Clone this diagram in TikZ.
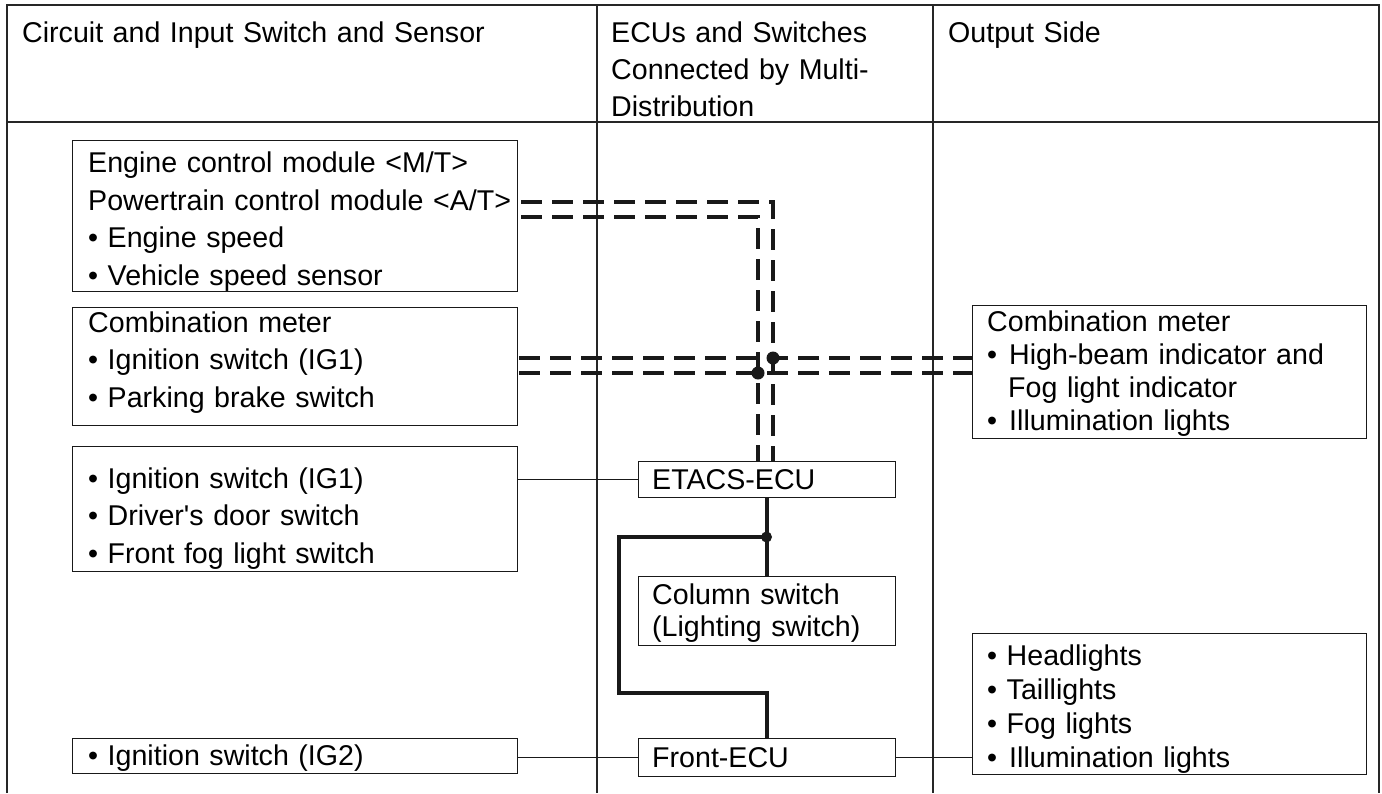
\documentclass[tikz,border=0pt]{standalone}
\usepackage{fontspec}
\setmainfont{Liberation Sans}[Ligatures=TeXOff]
\newcommand{\fsz}[1]{\fontsize{28.6}{#1}\selectfont}
\newcommand{\tstrut}{\rule{0pt}{21pt}}
\newcommand{\wb}{•\hspace*{12pt}}
\begin{document}
\begin{tikzpicture}[x=1pt,y=-1pt,
  frame/.style={draw=black!85, line width=1.6pt},
  box/.style={draw=black!90, line width=1.2pt, anchor=north west, inner sep=0pt},
  txt/.style={anchor=north west, inner sep=0pt, align=left},
  thin/.style={draw=black!90, line width=1.1pt},
  bus/.style={draw=black!90, line width=4pt, dash pattern=on 21pt off 10pt},
  wire/.style={draw=black!90, line width=4pt},
  dot/.style={fill=black!90}]
\useasboundingbox (0,0) rectangle (1382,793);
\fill[white] (0,0) rectangle (1382,793);
% table frame
\draw[frame] (7,793) -- (7,5) -- (1379,5) -- (1379,793);
\draw[frame, line width=1.3pt] (7,122) -- (1379,122);
\draw[frame, line width=1.3pt] (597,5) -- (597,793);
\draw[frame, line width=1.3pt] (933,5) -- (933,793);
% headers (first baseline = y + 21)
\node[txt, text width=560, font=\fsz{37}] (h1) at (22,21.5) {\tstrut Circuit and Input Switch and Sensor};
\node[txt, text width=310, font=\fsz{37}] (h2) at (611,21.5) {\tstrut ECUs and Switches\\Connected by Multi-\\Distribution};
\node[txt, text width=420, font=\fsz{37}] (h3) at (948,21.5) {\tstrut Output Side};
% left column boxes
\node[box, minimum width=445, minimum height=151] (ecm) at (72,140) {};
\node[txt, text width=430, font=\fsz{37.5}] (ecmtxt) at (88,151.5)
  {\tstrut Engine control module <M/T>\\Powertrain control module <A/T>\\• Engine speed\\• Vehicle speed sensor};
\node[box, minimum width=445, minimum height=118] (cml) at (72,307) {};
\node[txt, text width=430, font=\fsz{37.5}] (cmltxt) at (88,311)
  {\tstrut Combination meter\\• Ignition switch (IG1)\\• Parking brake switch};
\node[box, minimum width=445, minimum height=125] (sw1) at (72,446) {};
\node[txt, text width=430, font=\fsz{37.5}] (sw1txt) at (88,467)
  {\tstrut • Ignition switch (IG1)\\• Driver's door switch\\• Front fog light switch};
\node[box, minimum width=445, minimum height=35] (sw2) at (72,738) {};
\node[txt, text width=430, font=\fsz{37.5}] (sw2txt) at (88,744)
  {\tstrut • Ignition switch (IG2)};
% middle column
\node[box, minimum width=257, minimum height=36] (etacs) at (638,461) {};
\node[txt, text width=240, font=\fsz{37.5}] (etacstxt) at (652,468) {\tstrut ETACS-ECU};
\node[box, minimum width=257, minimum height=69] (colsw) at (638,576) {};
\node[txt, text width=240, font=\fsz{32}] (colswtxt) at (652,583.5) {\tstrut Column switch\\(Lighting switch)};
\node[box, minimum width=257, minimum height=38] (fecu) at (638,738) {};
\node[txt, text width=240, font=\fsz{37.5}] (fecutxt) at (652,746) {\tstrut Front-ECU};
% right column
\node[box, minimum width=394, minimum height=133] (cmr) at (972,305) {};
\node[txt, text width=380, font=\fsz{33}] (cmrtxt) at (987,310)
  {\tstrut Combination meter\\\wb High-beam indicator and\\\hspace*{21pt}Fog light indicator\\\wb Illumination lights};
\node[box, minimum width=394, minimum height=141] (outs) at (972,633) {};
\node[txt, text width=380, font=\fsz{34}] (outstxt) at (987,644)
  {\tstrut • Headlights\\• Taillights\\• Fog lights\\\wb Illumination lights};
% bus coordinates
\coordinate (ta) at (773,202);
\coordinate (tb) at (758,217);
\coordinate (ma) at (773,358);
\coordinate (mb) at (758,373);
\coordinate (j) at (766.5,537);
\coordinate (lc) at (619,537);
\coordinate (lb) at (619,693);
% multiplex (dashed) lines
\draw[bus] ([xshift=3pt]ecm.east |- ta) -- (ta) -- (ta |- etacs.north);
\draw[bus] ([xshift=3pt]ecm.east |- tb) -- (tb) -- (tb |- etacs.north);
\draw[bus] ([xshift=1pt]cml.east |- ma) -- (ma -| cmr.west);
\draw[bus] ([xshift=1pt]cml.east |- mb) -- (mb -| cmr.west);
\draw[wire] (ma) -- (ma |- mb);
\draw[wire] (mb) -- (mb |- ma);
\fill[dot] (ma) circle (6.5);
\fill[dot] (mb) circle (6.5);
% solid wires
\draw[wire] (etacs.south) -- (colsw.north);
\draw[wire] (j) -- (lc) -- (lb) -- (lb -| fecu.north) -- (fecu.north);
\fill[dot] (j) circle (5.5);
% thin connectors
\draw[thin] (sw1.east |- etacs.west) -- (etacs.west);
\draw[thin] (sw2.east |- fecu.west) -- (fecu.west);
\draw[thin] (fecu.east) -- (fecu.east -| outs.west);
\end{tikzpicture}
\end{document}
